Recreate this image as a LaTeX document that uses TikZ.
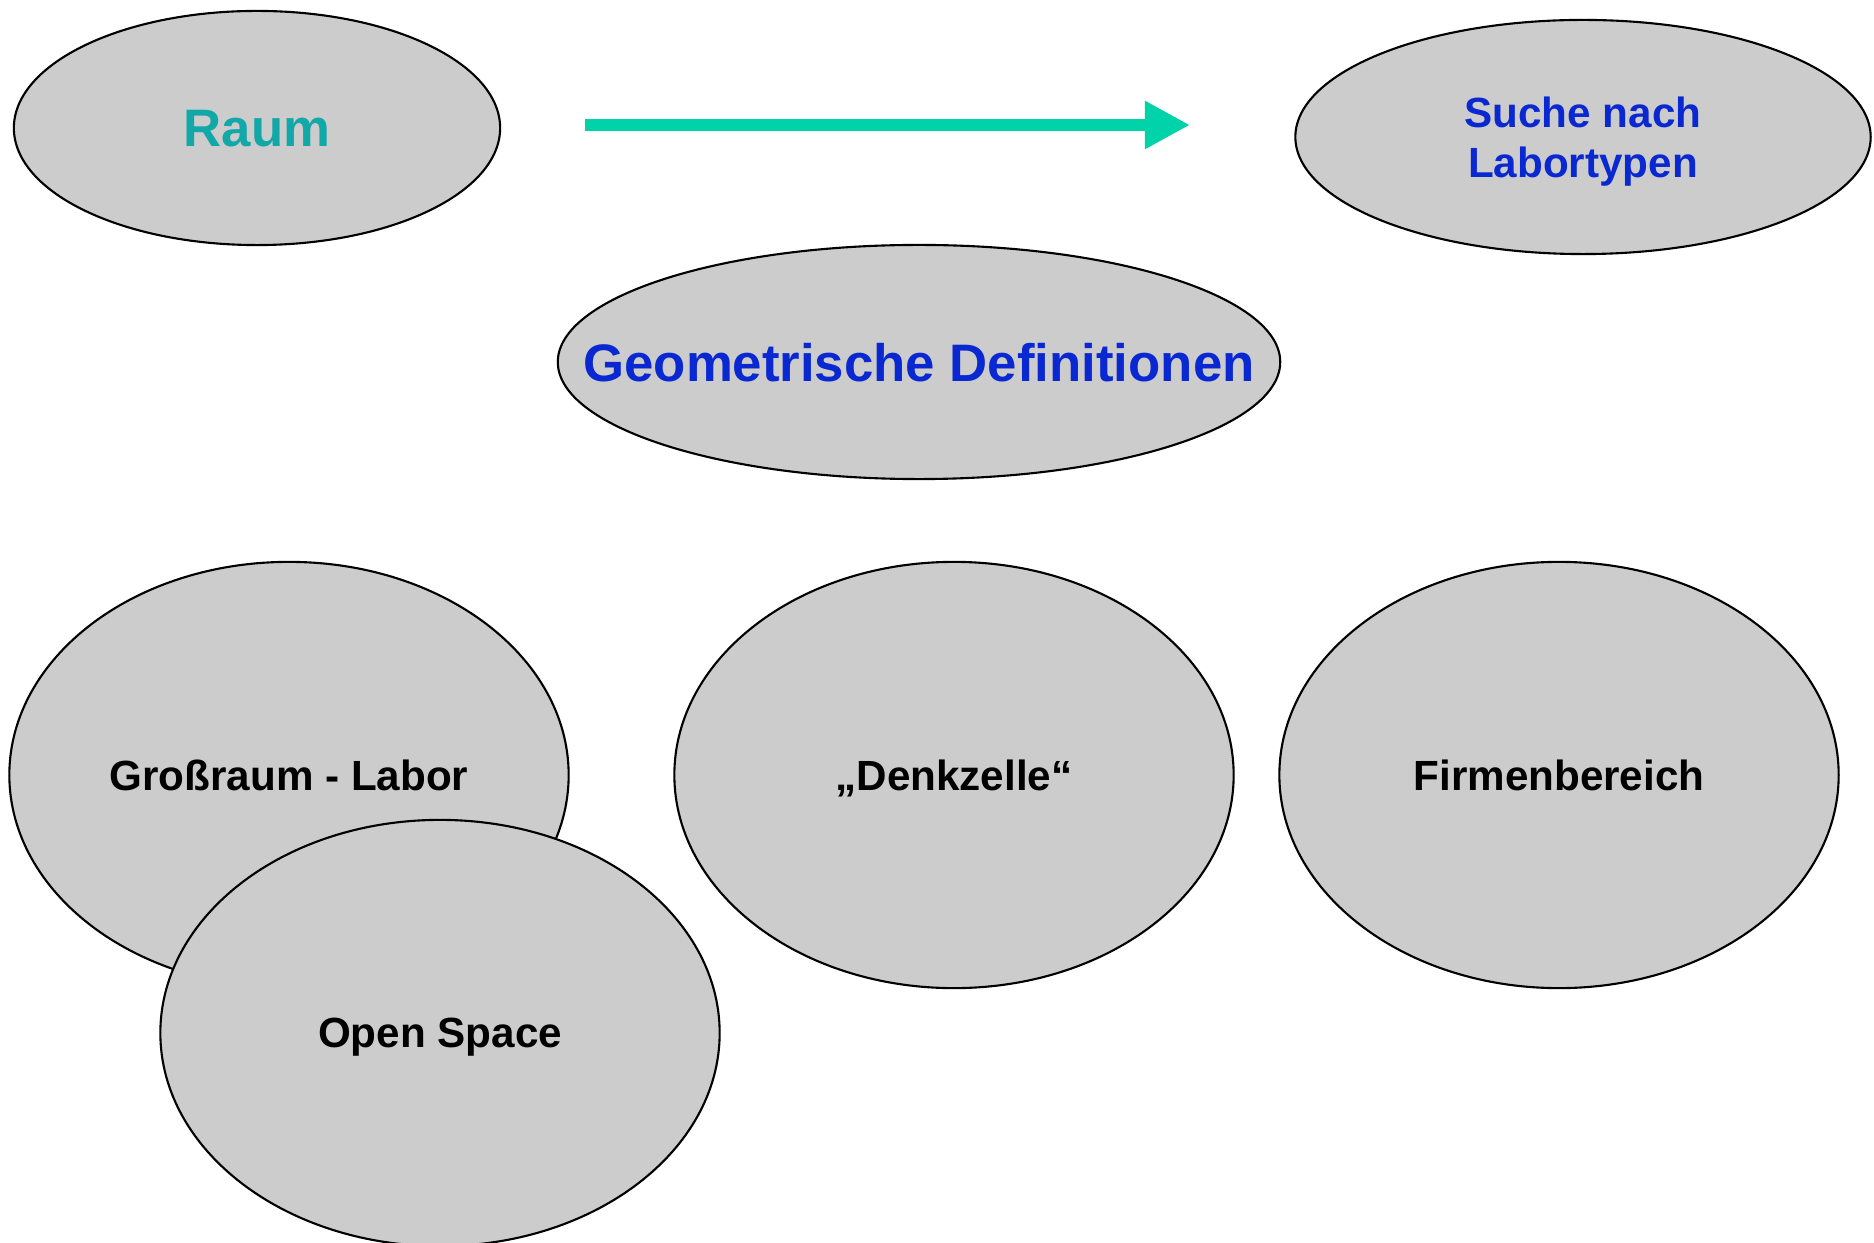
\documentclass[tikz,border=0pt]{standalone}
\usepackage{fontspec}
\setmainfont{Liberation Sans}
\usepackage{tikz}
\usepackage{xcolor}
\usetikzlibrary{shapes.geometric, arrows.meta}
\definecolor{oval-grey}{RGB}{204,204,204}
\definecolor{raum-teal}{RGB}{18,168,168}
\definecolor{arrow-green}{RGB}{0,210,170}
\definecolor{title-blue}{RGB}{10,40,210}
\tikzset{
    oval-box/.style = {draw=black, fill=oval-grey, line width=0.6pt, ellipse, inner sep=0pt, text depth=0pt, align=center, font=\bfseries\fontsize{12}{14.2}\selectfont},
    oval-small/.style = {oval-box, minimum width=5.59cm, minimum height=4.26cm},
    oval-title/.style = {text=title-blue},
    big-arrow/.style = {arrow-green, line width=0.12cm, -{Triangle[length=0.45cm, width=0.45cm]}},
}

\begin{document}
\begin{tikzpicture}[x=0.01cm, y=0.01cm]
\useasboundingbox (0,0) rectangle (1874,1242);
\node [oval-box, minimum width=4.86cm, minimum height=2.34cm, text=raum-teal, font=\bfseries\fontsize{15}{18}\selectfont] (raum) at (257,1114) {Raum};
\node [oval-box, oval-title, minimum width=5.75cm, minimum height=2.34cm] (suche) at (1583,1105) {Suche nach\\Labortypen};
\node [oval-box, oval-title, minimum width=7.22cm, minimum height=2.34cm, inner xsep=-1cm, font=\bfseries\fontsize{15}{18}\selectfont] (geometrie) at (919,880) {Geometrische Definitionen};
\node [oval-small] (grossraum) at (289,467) {Großraum - Labor};
\node [oval-small] (denkzelle) at (954,467) {„Denkzelle“};
\node [oval-small] (firma) at (1559,467) {Firmenbereich};
\node [oval-small] (openspace) at (440,209) {Open Space};
\coordinate (arrow-start) at (585,1117);
\coordinate (arrow-end) at (1190,1117);
\draw [big-arrow] (arrow-start) -- (arrow-end);
\end{tikzpicture}
\end{document}
